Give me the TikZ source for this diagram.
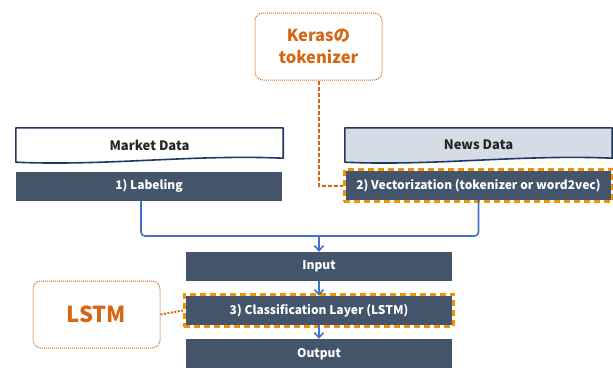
\documentclass[tikz,border=0pt]{standalone}
\usepackage{fontspec}
\setmainfont{Noto Sans CJK JP}
\usepackage{tikz}
\usetikzlibrary{arrows.meta, positioning, fit, calc}
\definecolor{slatebox}{RGB}{68, 84, 106}
\definecolor{newsgray}{RGB}{214, 220, 229}
\definecolor{navyline}{RGB}{31, 56, 100}
\definecolor{flowblue}{RGB}{68, 114, 196}
\definecolor{noteorange}{RGB}{214, 102, 20}
\definecolor{frameorange}{RGB}{243, 146, 0}

\begin{document}
\begin{tikzpicture}[
    x=1pt, y=-1pt,
    stage/.style={rectangle, fill=slatebox, text=white, minimum width=266pt, minimum height=29pt, inner sep=0pt, font=\fontsize{12}{14}\selectfont\bfseries},
    source/.style={rectangle, minimum width=267pt, minimum height=34pt, inner sep=0pt, font=\fontsize{13}{15}\selectfont\bfseries, text=black!85},
    wave/.style={draw=navyline, line width=1.6pt, line join=round},
    note/.style={rectangle, draw=noteorange, densely dotted, line width=1pt, rounded corners=8pt, minimum width=127pt, minimum height=67pt, align=center, text=noteorange},
    hilite/.style={draw=frameorange, line width=3pt, dash pattern=on 6pt off 4pt, inner sep=1.5pt},
    flow/.style={draw=flowblue, line width=1.6pt, rounded corners=4pt},
    arrow/.style={-{Straight Barb[length=5pt,width=9pt,line width=1.6pt]}, draw=flowblue, line width=1.6pt}
]
    \useasboundingbox (0,0) rectangle (613,367);

    % Sources
    \node[source] (market) at (149.5,145) {Market Data};
    \draw[wave, fill=white] (market.north west) -- (market.north east) -- ([yshift=4pt]market.south east)
        .. controls +(-90,-4) and +(90,4) .. (market.south west) -- cycle;
    \node[source] at (market) {Market Data};
    \node[source] (news) at (478.5,145) {News Data};
    \draw[wave, fill=newsgray] (news.north west) -- (news.north east) -- ([yshift=4pt]news.south east)
        .. controls +(-90,-4) and +(90,4) .. (news.south west) -- cycle;
    \node[source] at (news) {News Data};

    % Preprocessing
    \node[stage] (label) at (149,186) {1) Labeling};
    \node[stage, minimum width=265pt] (vec) at (478.5,185.5) {2) Vectorization (tokenizer or word2vec)};
    \node[hilite, fit=(vec)] (vecframe) {};

    % Model
    \node[stage] (input) at (319,266.5) {Input};
    \node[stage] (class) at (319,310.5) {3) Classification Layer (LSTM)};
    \node[hilite, fit=(class)] (classframe) {};
    \node[stage, minimum height=30pt] (output) at (319,354) {Output};

    % Notes
    \node[note, font=\fontsize{16.5}{22}\selectfont\bfseries] (keras) at (318.5,46.5) {Kerasの\\tokenizer};
    \node[note, font=\fontsize{22}{24}\selectfont\bfseries] (lstm) at (96.5,314.5) {LSTM};
    \draw[noteorange, line width=2pt, dash pattern=on 4pt off 2pt] (keras.south) |- (vecframe.west);
    \draw[noteorange, line width=2pt, dash pattern=on 2pt off 1.5pt] (lstm.east) -- (classframe.west);

    % Flow
    \coordinate (merge) at (input.north |- 0,236);
    \draw[flow] ([xshift=-8pt]label.south) |- (merge) -| (vec.south);
    \draw[arrow] (merge) -- (input.north);
    \draw[arrow] (input.south) -- (class.north);
    \draw[arrow] (class.south) -- (output.north);
\end{tikzpicture}
\end{document}
